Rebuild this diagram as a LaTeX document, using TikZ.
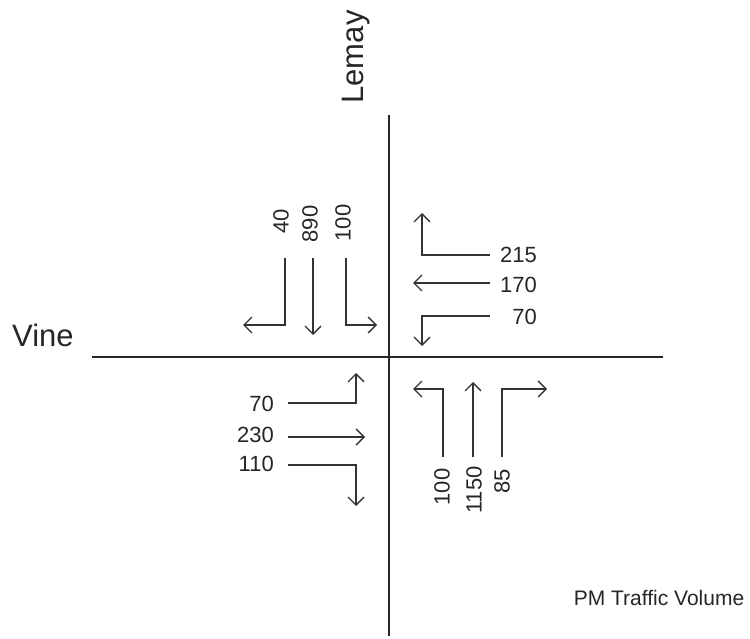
\documentclass[tikz,border=0pt]{standalone}
\usepackage{fontspec}
\setmainfont{Liberation Sans}
\usetikzlibrary{arrows.meta}
\begin{document}
\begin{tikzpicture}[x=1pt,y=-1pt,
  road/.style={line width=1.6pt, draw=black!85},
  mv/.style={line width=1.3pt, draw=black!80, -{Straight Barb[length=8pt,width=16pt,line width=1.3pt]}},
  vol/.style={font=\fontsize{22}{22}\selectfont, inner sep=0pt, text=black!85},
  vvol/.style={vol, rotate=90},
  street/.style={font=\fontsize{31}{31}\selectfont, inner sep=0pt, text=black!85}]
\useasboundingbox (0,0) rectangle (750,639);
% roads
\coordinate (vt) at (389,115); \coordinate (vb) at (389,636);
\coordinate (hl) at (92,357); \coordinate (hr) at (663,357);
\draw[road] (vt) -- (vb);
\draw[road] (hl) -- (hr);
\node[street, rotate=90] (lemay) at (356,57) {Lemay};
\node[street, anchor=west] (vine) at (12,335) {Vine};
\node[font=\fontsize{21}{21}\selectfont, inner sep=0pt, text=black!85] (title) at (659,598) {PM Traffic Volume};
% east approach
\coordinate (e1s) at (490,255); \coordinate (e1c) at (422,255); \coordinate (e1t) at (422,213);
\coordinate (e2s) at (490,283); \coordinate (e2t) at (413,283);
\coordinate (e3s) at (490,316); \coordinate (e3c) at (422,316); \coordinate (e3t) at (422,346);
\draw[mv] (e1s) -- (e1c) -- (e1t);
\draw[mv] (e2s) -- (e2t);
\draw[mv] (e3s) -- (e3c) -- (e3t);
\node[vol, anchor=east] (e1l) at (537,255) {215};
\node[vol, anchor=east] (e2l) at (537,285) {170};
\node[vol, anchor=east] (e3l) at (537,317) {70};
% west approach
\coordinate (w1s) at (288,403); \coordinate (w1c) at (356,403); \coordinate (w1t) at (356,373);
\coordinate (w2s) at (288,437); \coordinate (w2t) at (365,437);
\coordinate (w3s) at (288,465); \coordinate (w3c) at (356,465); \coordinate (w3t) at (356,506);
\draw[mv] (w1s) -- (w1c) -- (w1t);
\draw[mv] (w2s) -- (w2t);
\draw[mv] (w3s) -- (w3c) -- (w3t);
\node[vol, anchor=east] (w1l) at (274,404) {70};
\node[vol, anchor=east] (w2l) at (274,435) {230};
\node[vol, anchor=east] (w3l) at (274,464) {110};
% north approach
\coordinate (n1s) at (285,258); \coordinate (n1c) at (285,325); \coordinate (n1t) at (243,325);
\coordinate (n2s) at (313,258); \coordinate (n2t) at (313,335);
\coordinate (n3s) at (346,258); \coordinate (n3c) at (346,325); \coordinate (n3t) at (377,325);
\draw[mv] (n1s) -- (n1c) -- (n1t);
\draw[mv] (n2s) -- (n2t);
\draw[mv] (n3s) -- (n3c) -- (n3t);
\node[vvol] (n1l) at (281,221) {40};
\node[vvol] (n2l) at (310,224) {890};
\node[vvol] (n3l) at (343,223) {100};
% south approach
\coordinate (s1s) at (443,457); \coordinate (s1c) at (443,389); \coordinate (s1t) at (413,389);
\coordinate (s2s) at (473,457); \coordinate (s2t) at (473,382);
\coordinate (s3s) at (502,457); \coordinate (s3c) at (502,389); \coordinate (s3t) at (547,389);
\draw[mv] (s1s) -- (s1c) -- (s1t);
\draw[mv] (s2s) -- (s2t);
\draw[mv] (s3s) -- (s3c) -- (s3t);
\node[vvol] (s1l) at (442,487) {100};
\node[vvol] (s2l) at (474,490) {1150};
\node[vvol] (s3l) at (502,481) {85};
\end{tikzpicture}
\end{document}
